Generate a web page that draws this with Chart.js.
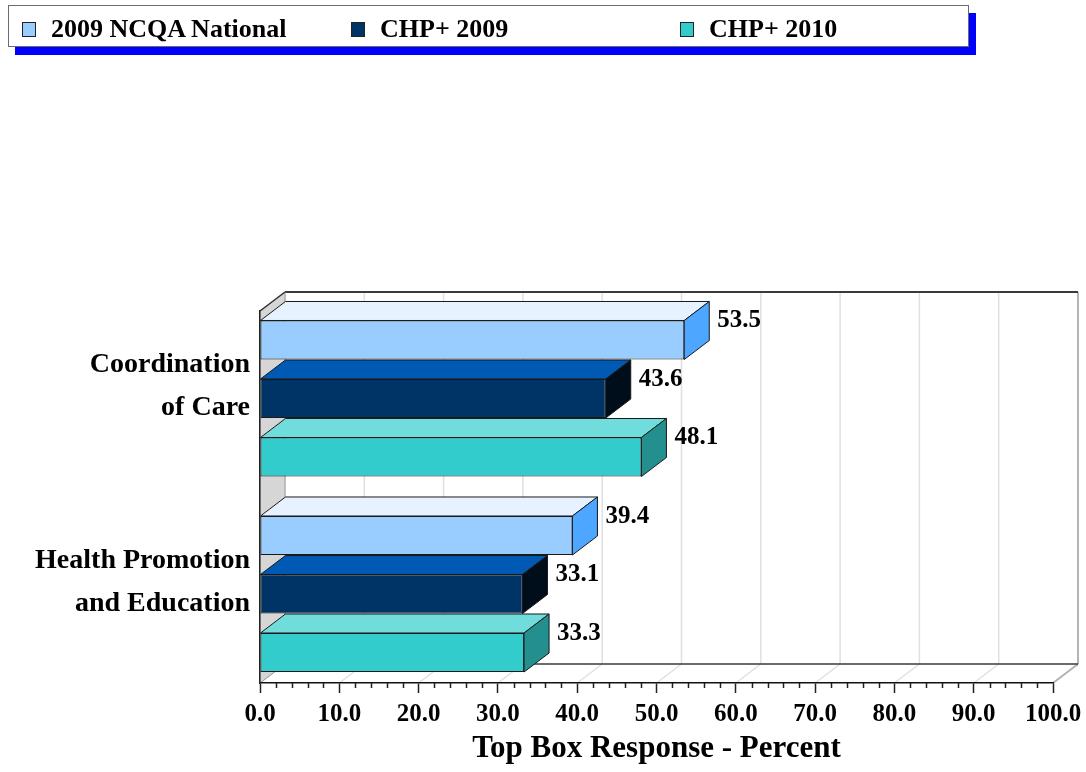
<!DOCTYPE html>
<html>
<head>
<meta charset="utf-8">
<script src="https://cdn.jsdelivr.net/npm/chart.js@4.4.1/dist/chart.umd.min.js"></script>
<style>
html,body{margin:0;padding:0;background:#fff;}
#wrap{position:relative;width:1086px;height:772px;overflow:hidden;}
#c{position:absolute;left:0;top:0;}
#legend{position:absolute;left:8px;top:5px;width:959px;height:40px;border:1px solid #6b6b6b;background:#fff;box-shadow:7px 8px 0 #0000FF;font:bold 26px "Liberation Serif","Times New Roman",serif;color:#000;}
.li{position:absolute;top:3px;height:40px;display:flex;align-items:center;white-space:nowrap;}
.sw{width:12px;height:13px;border:1px solid #222;margin-right:15px;box-sizing:content-box;}
</style>
</head>
<body>
<div id="wrap">
  <canvas id="c" width="1086" height="772"></canvas>
  <div id="legend"></div>
</div>
<script>
// ---- data ----
const categories = [['Coordination', 'of Care'], ['Health Promotion', 'and Education']];
const categoryPositions = [1, 2];
const seriesNames = ['2009 NCQA National', 'CHP+ 2009', 'CHP+ 2010'];
const ncqa2009 = [53.5, 39.4];
const chp2009 = [43.6, 33.1];
const chp2010 = [48.1, 33.3];
const xMin = 0, xMax = 100, xStep = 10, xMinorStep = 2;
const axisTitle = 'Top Box Response - Percent';

// ---- styles ----
const SERIF = '"Liberation Serif","Times New Roman",serif';
const frontColors = ['#99CCFF', '#003366', '#33CCCC'];
const topColors = ['#E6F2FF', '#0059B3', '#70DCDC'];
const sideColors = ['#4DA6FF', '#000D1A', '#248F8F'];
const DX = 25, DY = 19;

// ---- legend (HTML) ----
const legend = document.getElementById('legend');
seriesNames.forEach((name, i) => {
  const item = document.createElement('div');
  item.className = 'li';
  item.style.left = (13 + i * 329) + 'px';
  const sw = document.createElement('div');
  sw.className = 'sw';
  sw.style.background = frontColors[i];
  const tx = document.createElement('span');
  tx.textContent = name;
  item.appendChild(sw);
  item.appendChild(tx);
  legend.appendChild(item);
});

const seriesValues = [ncqa2009, chp2009, chp2010];

const threeD = {
  id: 'threeD',
  beforeDraw(chart) {
    const {ctx, chartArea: a, scales: {x}} = chart;
    ctx.save();
    // grid lines on back wall and floor
    ctx.strokeStyle = '#e0e0e0';
    ctx.lineWidth = 1.5;
    x.ticks.forEach(t => {
      const px = x.getPixelForValue(t.value);
      ctx.beginPath();
      ctx.moveTo(px + DX, a.top - DY);
      ctx.lineTo(px + DX, a.bottom - DY);
      ctx.moveTo(px, a.bottom);
      ctx.lineTo(px + DX, a.bottom - DY);
      ctx.stroke();
    });
    // right back edge & floor right edge
    ctx.strokeStyle = '#b4b4b4';
    ctx.lineWidth = 2;
    ctx.beginPath();
    ctx.moveTo(a.right + DX, a.top - DY);
    ctx.lineTo(a.right + DX, a.bottom - DY);
    ctx.moveTo(a.right, a.bottom);
    ctx.lineTo(a.right + DX, a.bottom - DY);
    ctx.stroke();
    // back top edge & back floor edge
    ctx.strokeStyle = '#3a3a3a';
    ctx.lineWidth = 2;
    ctx.beginPath();
    ctx.moveTo(a.left + DX, a.top - DY);
    ctx.lineTo(a.right + DX, a.top - DY);
    ctx.stroke();
    ctx.lineWidth = 1.5;
    ctx.beginPath();
    ctx.moveTo(a.left + DX, a.bottom - DY);
    ctx.lineTo(a.right + DX, a.bottom - DY);
    ctx.stroke();
    // left wall
    ctx.fillStyle = '#d6d6d6';
    ctx.beginPath();
    ctx.moveTo(a.left, a.top);
    ctx.lineTo(a.left + DX, a.top - DY);
    ctx.lineTo(a.left + DX, a.bottom - DY);
    ctx.lineTo(a.left, a.bottom);
    ctx.closePath();
    ctx.fill();
    ctx.strokeStyle = '#9a9a9a';
    ctx.lineWidth = 1;
    ctx.stroke();
    ctx.strokeStyle = '#333';
    ctx.lineWidth = 1.5;
    ctx.beginPath();
    ctx.moveTo(a.left, a.top);
    ctx.lineTo(a.left + DX, a.top - DY);
    ctx.stroke();
    ctx.restore();
  },
  afterDraw(chart) {
    const {ctx, chartArea: a, scales: {x}} = chart;
    ctx.save();
    // minor ticks
    ctx.strokeStyle = '#222';
    ctx.lineWidth = 1.5;
    ctx.beginPath();
    for (let v = xMin; v <= xMax; v += xMinorStep) {
      if (v % xStep === 0) continue;
      const px = Math.round(x.getPixelForValue(v)) + 0.5;
      ctx.moveTo(px, a.bottom);
      ctx.lineTo(px, a.bottom + 5);
    }
    ctx.stroke();
    ctx.restore();
  },
  afterDatasetsDraw(chart) {
    const ctx = chart.ctx;
    ctx.save();
    chart.data.datasets.forEach((ds, di) => {
      const meta = chart.getDatasetMeta(di);
      meta.data.forEach((el, i) => {
        const p = el.getProps(['x', 'y', 'base', 'height'], true);
        const top = p.y - p.height / 2, bottom = p.y + p.height / 2;
        ctx.strokeStyle = '#1a1a1a';
        ctx.lineWidth = 1;
        // top face
        ctx.fillStyle = topColors[di];
        ctx.beginPath();
        ctx.moveTo(p.base, top);
        ctx.lineTo(p.base + DX, top - DY);
        ctx.lineTo(p.x + DX, top - DY);
        ctx.lineTo(p.x, top);
        ctx.closePath();
        ctx.fill();
        ctx.stroke();
        // side face
        ctx.fillStyle = sideColors[di];
        ctx.beginPath();
        ctx.moveTo(p.x, top);
        ctx.lineTo(p.x + DX, top - DY);
        ctx.lineTo(p.x + DX, bottom - DY);
        ctx.lineTo(p.x, bottom);
        ctx.closePath();
        ctx.fill();
        ctx.stroke();
        // value label
        ctx.fillStyle = '#000';
        ctx.font = 'bold 25px ' + SERIF;
        ctx.textAlign = 'left';
        ctx.textBaseline = 'middle';
        ctx.fillText(seriesValues[di][i].toFixed(1), p.x + DX + 8, p.y - DY);
      });
    });
    ctx.restore();
  }
};

new Chart(document.getElementById('c'), {
  type: 'bar',
  data: {
    datasets: seriesNames.map((name, di) => ({
      label: name,
      data: seriesValues[di].map((v, i) => ({x: v, y: categoryPositions[i]})),
      backgroundColor: frontColors[di],
      borderColor: '#1a1a1a',
      borderWidth: 1,
      borderSkipped: false,
      categoryPercentage: 0.8977,
      barPercentage: 0.6667
    }))
  },
  options: {
    responsive: false,
    animation: false,
    indexAxis: 'y',
    layout: {padding: {top: 311, right: 33, left: 0, bottom: 0}},
    plugins: {legend: {display: false}, tooltip: {enabled: false}},
    scales: {
      x: {
        type: 'linear', position: 'bottom', min: xMin, max: xMax,
        ticks: {
          stepSize: xStep, autoSkip: false, maxRotation: 0, padding: 7, color: '#000',
          font: {family: SERIF, size: 25, weight: 'bold'},
          callback: v => Number(v).toFixed(1)
        },
        grid: {display: true, drawOnChartArea: false, drawTicks: true, tickLength: 10, tickColor: '#222', tickWidth: 1.5},
        border: {display: true, color: '#111', width: 1.5},
        title: {display: true, text: axisTitle, color: '#000', font: {family: SERIF, size: 31, weight: 'bold'}, padding: {top: 0, bottom: 4}},
        afterFit(s) { s.height = 89; s.paddingLeft = 0; s.paddingRight = 0; }
      },
      y: {
        type: 'linear', reverse: true, offset: false, bounds: 'data', min: 0.55243, max: 2.45524,
        afterBuildTicks(s) { s.ticks = categoryPositions.map(v => ({value: v})); },
        ticks: {
          autoSkip: false, padding: 10, labelOffset: -12, color: '#000',
          font: {family: SERIF, size: 28, weight: 'bold', lineHeight: 1.536},
          callback: (v, i) => categories[i]
        },
        grid: {display: false, drawTicks: false},
        border: {display: true, color: '#222', width: 1.5},
        afterFit(s) { s.width = 260; s.paddingTop = 0; s.paddingBottom = 0; }
      }
    }
  },
  plugins: [threeD]
});
</script>
</body>
</html>
